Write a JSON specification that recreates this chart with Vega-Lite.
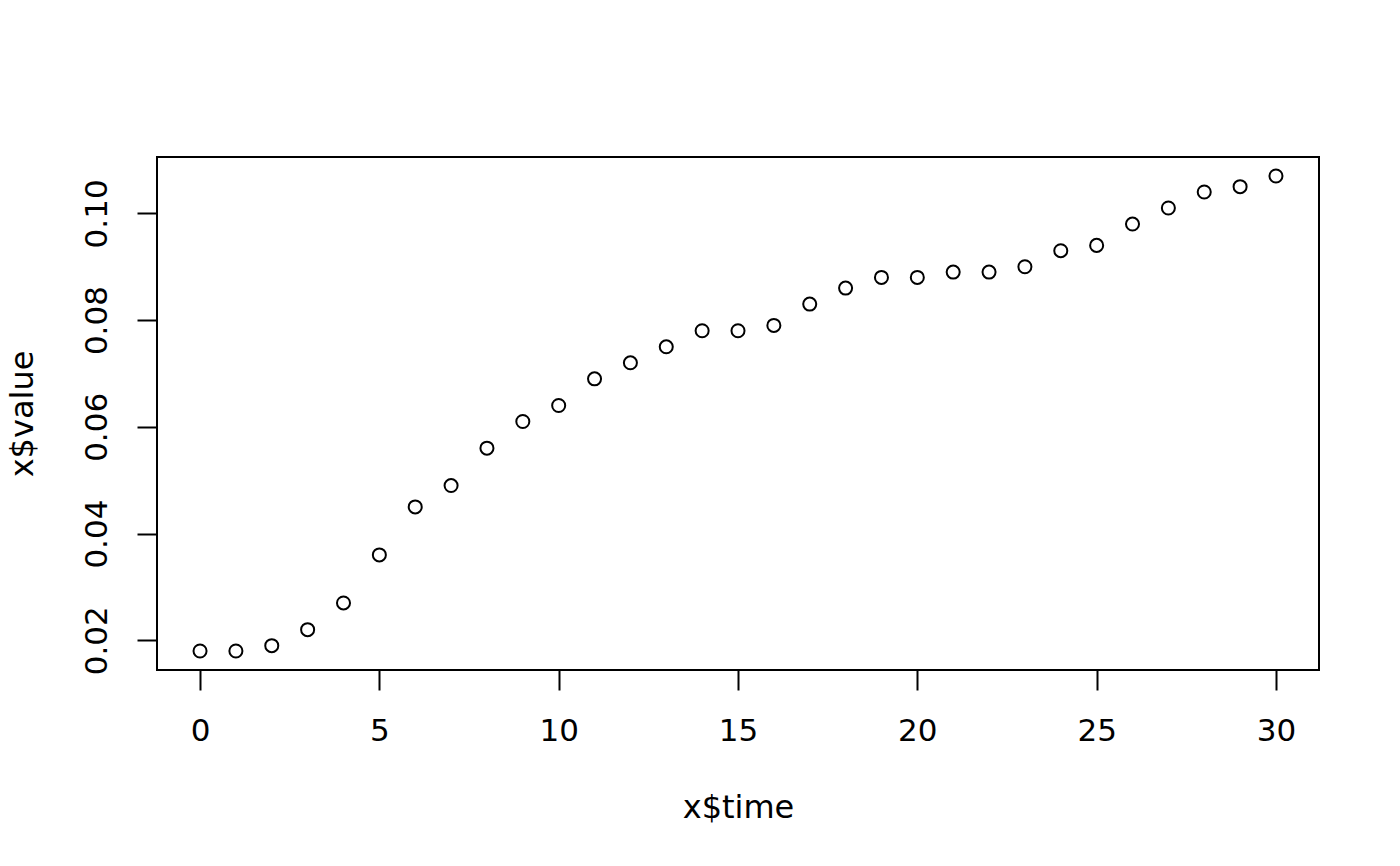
{
  "$schema": "https://vega.github.io/schema/vega-lite/v6.json",
  "autosize": {"type": "none"},
  "width": 1162,
  "height": 513,
  "padding": {"left": 157, "top": 157, "right": 81, "bottom": 196},
  "background": "white",
  "config": {
    "view": {"stroke": "black", "strokeWidth": 2},
    "font": "DejaVu Sans",
    "axis": {
      "domain": false,
      "grid": false,
      "ticks": true,
      "tickColor": "black",
      "tickWidth": 2,
      "tickSize": 20,
      "labelFont": "DejaVu Sans",
      "labelFontSize": 31,
      "labelColor": "black",
      "titleFont": "DejaVu Sans",
      "titleFontSize": 32,
      "titleFontWeight": "normal",
      "titleColor": "black"
    }
  },
  "data": {
    "values": [
      {"time": 0, "value": 0.018},
      {"time": 1, "value": 0.018},
      {"time": 2, "value": 0.019},
      {"time": 3, "value": 0.022},
      {"time": 4, "value": 0.027},
      {"time": 5, "value": 0.036},
      {"time": 6, "value": 0.045},
      {"time": 7, "value": 0.049},
      {"time": 8, "value": 0.056},
      {"time": 9, "value": 0.061},
      {"time": 10, "value": 0.064},
      {"time": 11, "value": 0.069},
      {"time": 12, "value": 0.072},
      {"time": 13, "value": 0.075},
      {"time": 14, "value": 0.078},
      {"time": 15, "value": 0.078},
      {"time": 16, "value": 0.079},
      {"time": 17, "value": 0.083},
      {"time": 18, "value": 0.086},
      {"time": 19, "value": 0.088},
      {"time": 20, "value": 0.088},
      {"time": 21, "value": 0.089},
      {"time": 22, "value": 0.089},
      {"time": 23, "value": 0.090},
      {"time": 24, "value": 0.093},
      {"time": 25, "value": 0.094},
      {"time": 26, "value": 0.098},
      {"time": 27, "value": 0.101},
      {"time": 28, "value": 0.104},
      {"time": 29, "value": 0.105},
      {"time": 30, "value": 0.107}
    ]
  },
  "mark": {"type": "point", "shape": "circle", "filled": false, "stroke": "black", "strokeWidth": 2, "size": 170, "opacity": 1},
  "encoding": {
    "x": {
      "field": "time", "type": "quantitative",
      "scale": {"domain": [-1.2, 31.2], "nice": false, "zero": false},
      "axis": {"values": [0, 5, 10, 15, 20, 25, 30], "title": "x$time", "labelPadding": 26, "titlePadding": 46}
    },
    "y": {
      "field": "value", "type": "quantitative",
      "scale": {"domain": [0.01444, 0.11056], "nice": false, "zero": false},
      "axis": {"values": [0.02, 0.04, 0.06, 0.08, 0.10], "format": ".2f", "title": "x$value",
        "labelAngle": -90, "labelAlign": "center", "labelBaseline": "bottom", "labelPadding": 24, "titlePadding": 42}
    }
  }
}
